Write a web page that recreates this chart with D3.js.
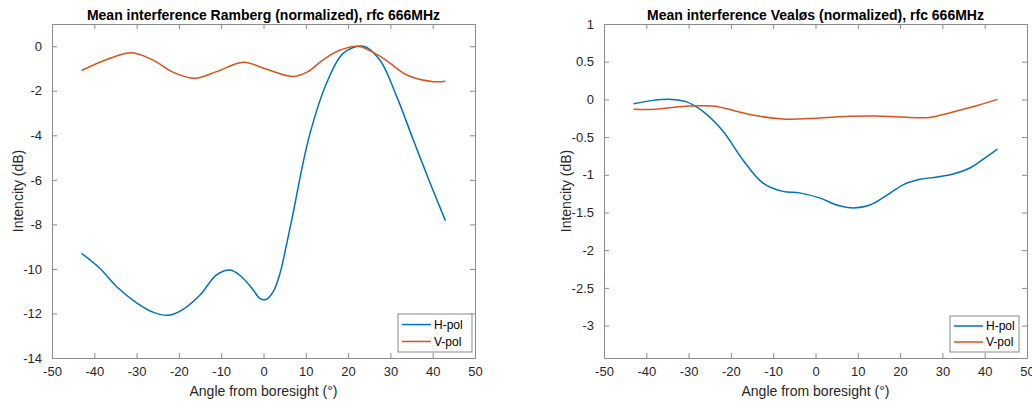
<!DOCTYPE html>
<html lang="en">
<head>
<meta charset="UTF-8">
<title>Mean interference</title>
<script src="https://d3js.org/d3.v7.min.js"></script>
<style>
    body { margin: 0; background: #fff; }
    text { font-family: "Liberation Sans", Arial, sans-serif; fill: #262626; }
    .axis path, .axis line { stroke: #8a8a8a; }
    .axis text { font-size: 13px; fill: #262626; }
    .title { font-size: 14px; font-weight: bold; fill: #000; }
    .label { font-size: 14px; }
</style>
</head>
<body>
<script>
// Ramberg, angle (deg) vs intensity (dB)
const rambergHAngle = [-43, -38.7, -34.7, -30, -26, -22.5, -19.3, -15, -11.1, -7.9, -5.2, -2.4, -0.9, 0.6, 2.3, 3.9, 5.5, 7.0, 9.0, 11, 14.9, 18.9, 23.6, 27.5, 31.5, 35.4, 39.4, 43];
const rambergH = [-9.3, -9.97, -10.8, -11.52, -11.95, -12.08, -11.85, -11.17, -10.27, -10.05, -10.35, -10.95, -11.32, -11.37, -11.02, -10.2, -8.85, -7.5, -5.56, -3.91, -1.66, -0.31, 0, -0.62, -2.26, -4.2, -6.15, -7.83];
const rambergVAngle = [-43, -36.3, -31.2, -26.1, -21.3, -16.2, -11.1, -4.8, 0.7, 7.0, 10.5, 14, 18.1, 22.4, 28.3, 33.9, 40.2, 43];
const rambergV = [-1.09, -0.54, -0.29, -0.62, -1.17, -1.44, -1.14, -0.72, -1.03, -1.36, -1.14, -0.62, -0.17, 0, -0.54, -1.29, -1.59, -1.57];

// Vealøs
const vealosHAngle = [-43, -38.4, -34.1, -30.6, -26.6, -21.9, -17.2, -12.4, -7.7, -3.8, 1.1, 5, 9.0, 12.9, 16.9, 20.8, 24.7, 28.7, 32.6, 36.5, 39.5, 43];
const vealosH = [-0.057, -0.013, 0, -0.03, -0.16, -0.42, -0.8, -1.11, -1.22, -1.24, -1.31, -1.40, -1.44, -1.40, -1.27, -1.13, -1.06, -1.03, -0.99, -0.91, -0.8, -0.66];
const vealosVAngle = [-43, -37.8, -32.9, -27.4, -23.7, -15.6, -7.7, 0.15, 8, 14.3, 20.6, 26.9, 31.6, 38, 43];
const vealosV = [-0.13, -0.13, -0.1, -0.084, -0.09, -0.2, -0.26, -0.25, -0.225, -0.22, -0.235, -0.24, -0.18, -0.085, 0];

const xTicks = [-50, -40, -30, -20, -10, 0, 10, 20, 30, 40, 50];
const rambergYTicks = [-14, -12, -10, -8, -6, -4, -2, 0];
const vealosYTicks = [-3, -2.5, -2, -1.5, -1, -0.5, 0, 0.5, 1];
const seriesNames = ["H-pol", "V-pol"];
const colors = ["#0072BD", "#D95319"];

const width = 1032, height = 401;
const svg = d3.select("body").append("svg")
    .attr("width", width)
    .attr("height", height);

const panels = [
    {
        title: "Mean interference Ramberg (normalized), rfc 666MHz",
        left: 52, right: 475, yDomain: [-14, 1], yTicks: rambergYTicks,
        series: [[rambergHAngle, rambergH], [rambergVAngle, rambergV]],
        yLabelX: 18, legend: {left: 398, right: 472, top: 314}
    },
    {
        title: "Mean interference Vealøs (normalized), rfc 666MHz",
        left: 604, right: 1027, yDomain: [-3.43, 1], yTicks: vealosYTicks,
        series: [[vealosHAngle, vealosH], [vealosVAngle, vealosV]],
        yLabelX: 566, legend: {left: 950, right: 1019, top: 316}
    }
];

const plotTop = 24, plotBottom = 358;

panels.forEach(p => {
    const x = d3.scaleLinear().domain([-50, 50]).range([p.left, p.right]);
    const y = d3.scaleLinear().domain(p.yDomain).range([plotBottom, plotTop]);
    const g = svg.append("g");

    // box with inward ticks on all four sides
    g.append("g").attr("class", "axis")
        .attr("transform", `translate(0,${plotBottom})`)
        .call(d3.axisBottom(x).tickValues(xTicks).tickSizeInner(-5).tickSizeOuter(0).tickPadding(9).tickFormat(d3.format("d")));
    g.append("g").attr("class", "axis")
        .attr("transform", `translate(0,${plotTop})`)
        .call(d3.axisTop(x).tickValues(xTicks).tickSizeInner(-5).tickSizeOuter(0).tickFormat(""));
    g.append("g").attr("class", "axis")
        .attr("transform", `translate(${p.left},0)`)
        .call(d3.axisLeft(y).tickValues(p.yTicks).tickSizeInner(-5).tickSizeOuter(0).tickPadding(10).tickFormat(d => String(d)));
    g.append("g").attr("class", "axis")
        .attr("transform", `translate(${p.right},0)`)
        .call(d3.axisRight(y).tickValues(p.yTicks).tickSizeInner(-5).tickSizeOuter(0).tickFormat(""));
    g.selectAll(".axis text").text(function() { return this.textContent.replace("−", "-"); });

    const line = d3.line()
        .x(d => x(d[0]))
        .y(d => y(d[1]))
        .curve(d3.curveCatmullRom.alpha(0.5));

    p.series.forEach((s, i) => {
        g.append("path")
            .datum(d3.zip(s[0], s[1]))
            .attr("fill", "none")
            .attr("stroke", colors[i])
            .attr("stroke-width", 1.5)
            .attr("d", line);
    });

    g.append("text").attr("class", "title")
        .attr("x", (p.left + p.right) / 2).attr("y", 20)
        .attr("text-anchor", "middle")
        .text(p.title);

    g.append("text").attr("class", "label")
        .attr("x", (p.left + p.right) / 2).attr("y", 396)
        .attr("text-anchor", "middle")
        .text("Angle from boresight (°)");

    g.append("text").attr("class", "label")
        .attr("transform", `translate(${p.yLabelX},${(plotTop + plotBottom) / 2}) rotate(-90)`)
        .attr("text-anchor", "middle")
        .attr("dy", "0.35em")
        .text("Intencity (dB)");

    // legend
    const lw = p.legend.right - p.legend.left;
    const lh = 352 - p.legend.top;
    const lg = g.append("g").attr("transform", `translate(${p.legend.left},${p.legend.top})`);
    lg.append("rect")
        .attr("width", lw).attr("height", lh)
        .attr("fill", "#fff").attr("stroke", "#8a8a8a").attr("stroke-width", 1);
    seriesNames.forEach((name, i) => {
        const yy = lh / 2 + (i - 0.5) * (lh / 2.25);
        lg.append("line")
            .attr("x1", 4).attr("x2", 33).attr("y1", yy).attr("y2", yy)
            .attr("stroke", colors[i]).attr("stroke-width", 1.5);
        lg.append("text")
            .attr("x", 36).attr("y", yy).attr("dy", "0.35em")
            .style("font-size", "12px").style("fill", "#000")
            .text(name);
    });
});
</script>
</body>
</html>
